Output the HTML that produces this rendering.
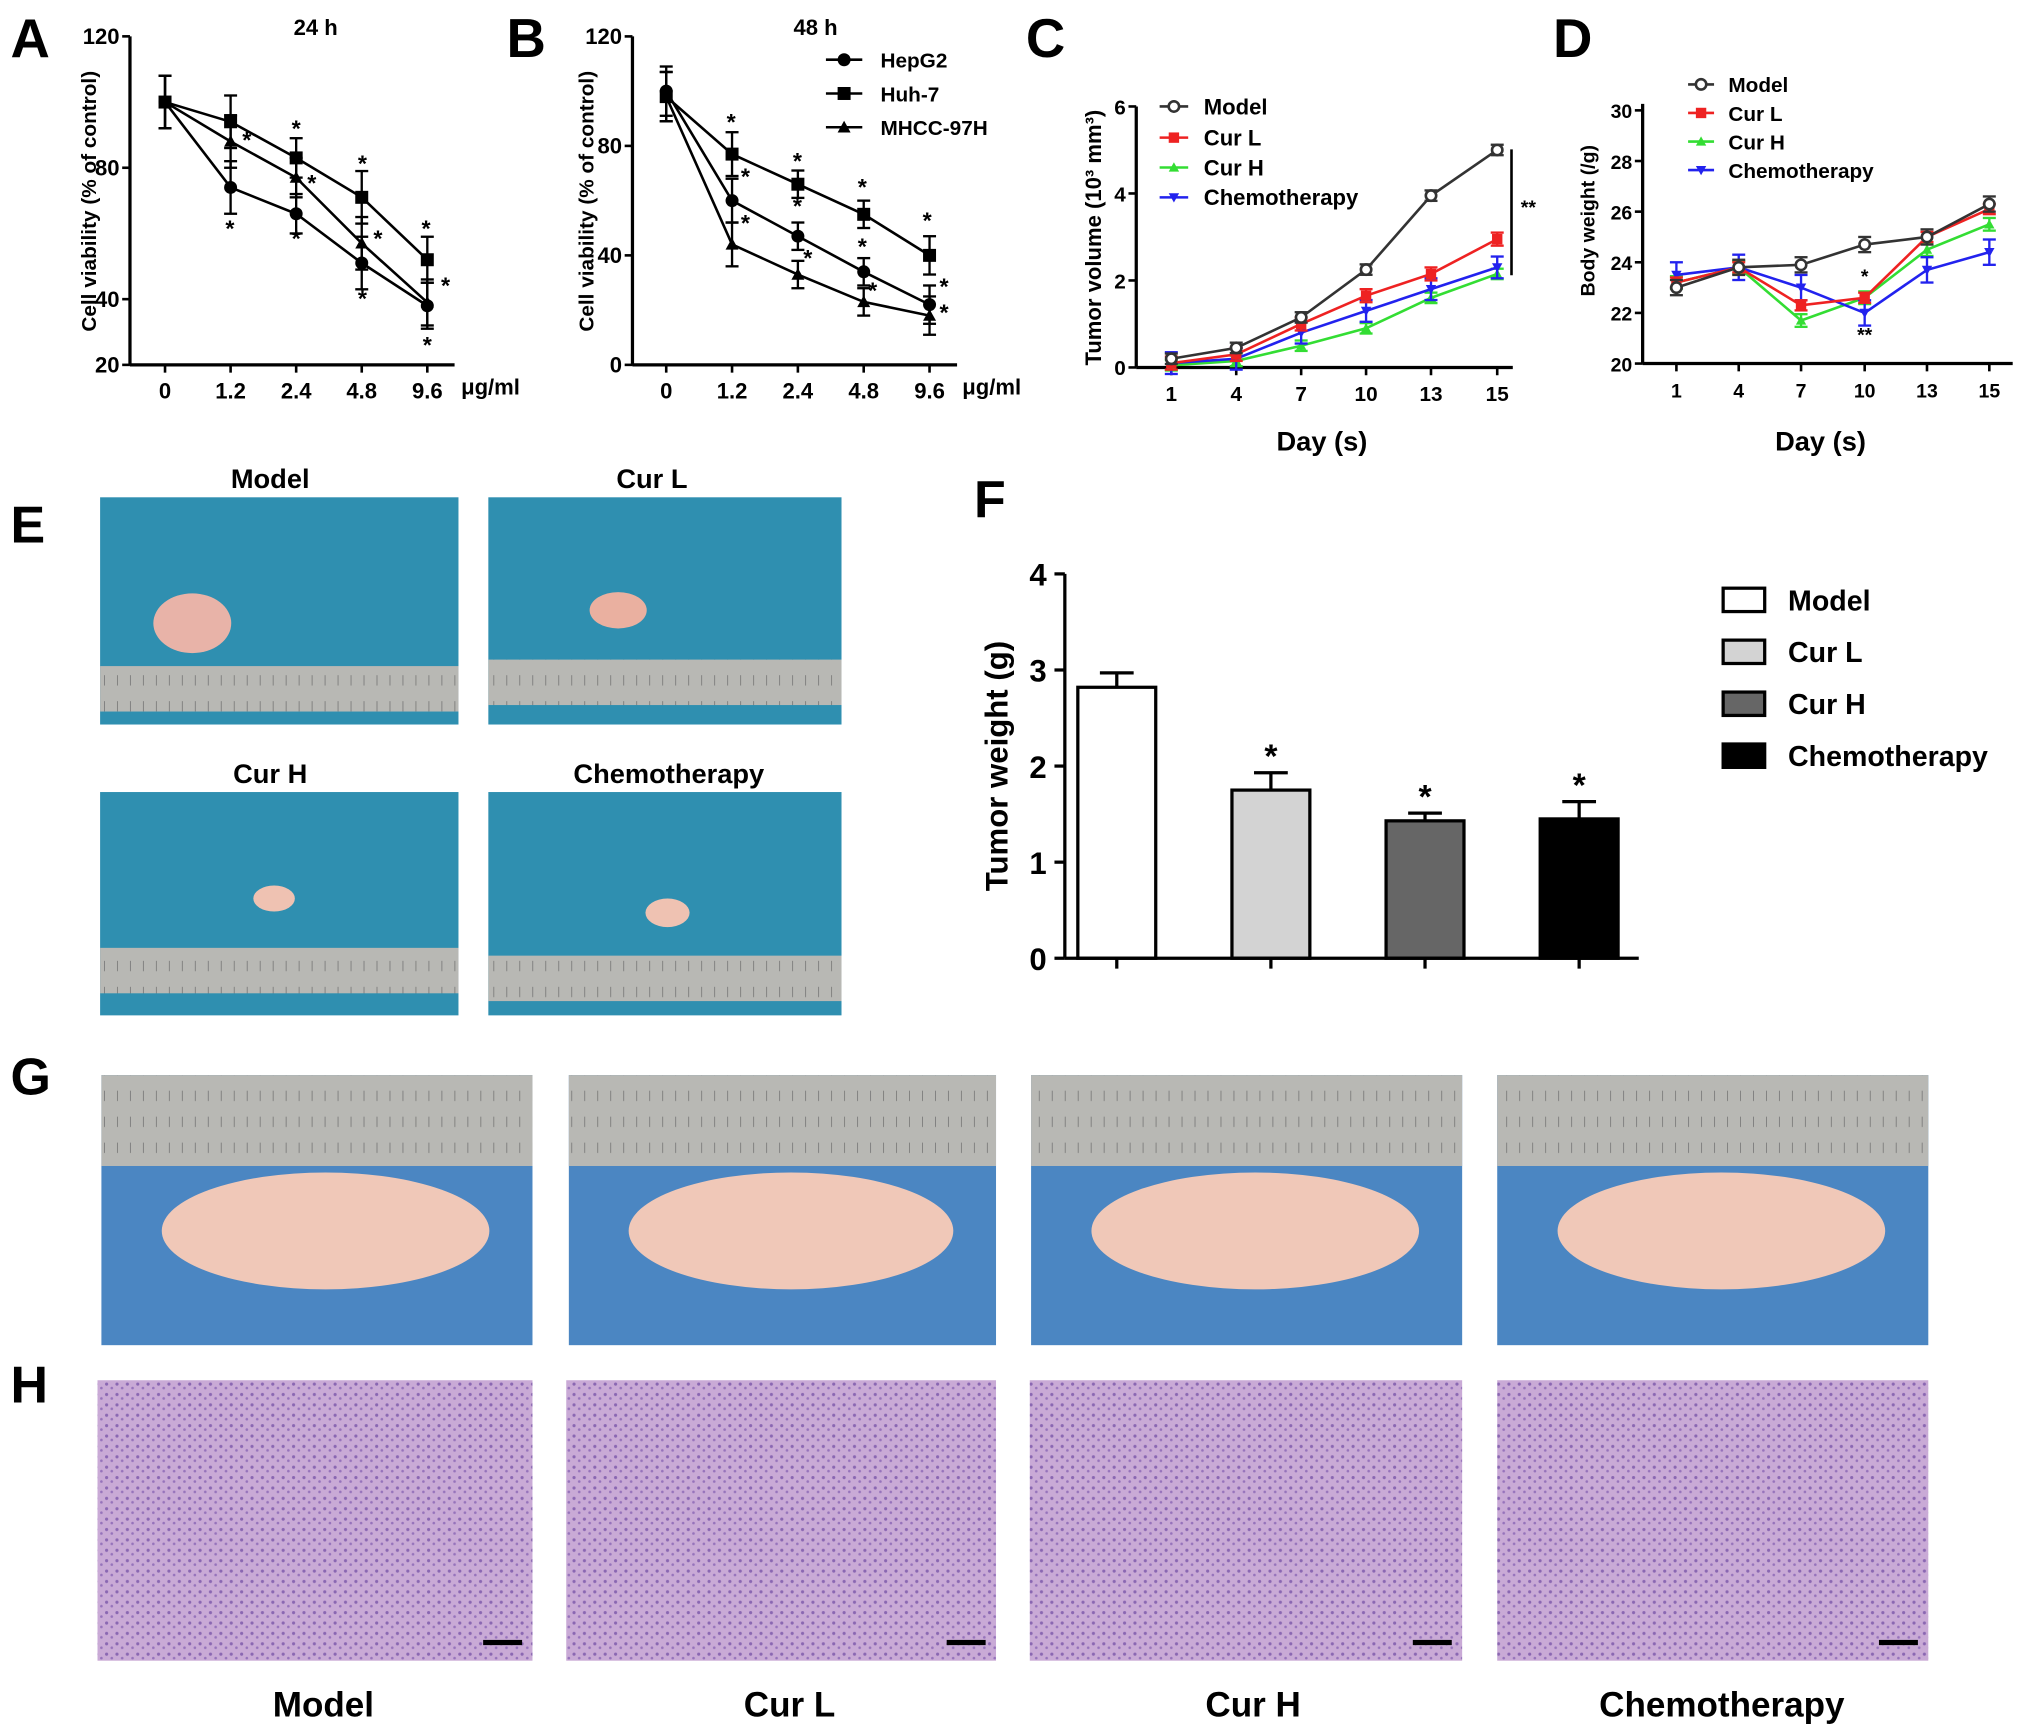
<!DOCTYPE html>
<html><head><meta charset="utf-8"><style>
html,body{margin:0;padding:0;background:#fff;}
svg{display:block;font-family:"Liberation Sans",Arial,sans-serif;}
.lb{font-weight:bold;}
</style></head><body>
<svg id="fig" width="2031" height="1736" viewBox="0 0 1564 1337" xmlns="http://www.w3.org/2000/svg">
<defs>
<pattern id="histo" width="8" height="8" patternUnits="userSpaceOnUse"><rect width="8" height="8" fill="#c9aad6"/><circle cx="2" cy="2" r="1.2" fill="#8a67b2"/><circle cx="6" cy="5" r="1" fill="#9673bb"/></pattern>
<pattern id="ruler" width="10" height="20" patternUnits="userSpaceOnUse"><rect width="10" height="20" fill="#b8b8b4"/><line x1="0" y1="0" x2="0" y2="8" stroke="#666" stroke-width="1"/></pattern>
</defs>
<g id="panels"></g>
<g>
<text x="8" y="418" font-size="40" class="lb">E</text>
<text x="208" y="376" font-size="21" class="lb" text-anchor="middle">Model</text>
<text x="502" y="376" font-size="21" class="lb" text-anchor="middle">Cur L</text>
<text x="208" y="603" font-size="21" class="lb" text-anchor="middle">Cur H</text>
<text x="515" y="603" font-size="21" class="lb" text-anchor="middle">Chemotherapy</text>
<rect x="77" y="383" width="276" height="175" fill="#2f8fb0"/><rect x="77" y="513" width="276" height="35" fill="url(#ruler)"/><ellipse cx="148" cy="480" rx="30" ry="23" fill="#e8b3a8"/>
<rect x="376" y="383" width="272" height="175" fill="#2f8fb0"/><rect x="376" y="508" width="272" height="35" fill="url(#ruler)"/><ellipse cx="476" cy="470" rx="22" ry="14" fill="#eab0a0"/>
<rect x="77" y="610" width="276" height="172" fill="#2f8fb0"/><rect x="77" y="730" width="276" height="35" fill="url(#ruler)"/><ellipse cx="211" cy="692" rx="16" ry="10" fill="#efc2b2"/>
<rect x="376" y="610" width="272" height="172" fill="#2f8fb0"/><rect x="376" y="736" width="272" height="35" fill="url(#ruler)"/><ellipse cx="514" cy="703" rx="17" ry="11" fill="#efc2b2"/>
</g>
<g>
<text x="8" y="843" font-size="40" class="lb">G</text>
<g id="gphotos"></g>
</g>
<g>
<text x="8" y="1080" font-size="40" class="lb">H</text>
<g id="hphotos"></g>
<text x="249" y="1322" font-size="27" class="lb" text-anchor="middle">Model</text>
<text x="608" y="1322" font-size="27" class="lb" text-anchor="middle">Cur L</text>
<text x="965" y="1322" font-size="27" class="lb" text-anchor="middle">Cur H</text>
<text x="1326" y="1322" font-size="27" class="lb" text-anchor="middle">Chemotherapy</text>
</g>
</svg>
<script>
// ===== Panel A data =====
const doseLabels = ["0","1.2","2.4","4.8","9.6"];
const aHepG2 = [100,74,66,51,38];
const aHuh7 = [100,94,83,71,52];
const aMHCC = [100,88,77,57,39];
const aErr = [8,8,6,8,7];
// ===== Panel B data =====
const bHepG2 = [100,60,47,34,22];
const bHuh7 = [98,77,66,55,40];
const bMHCC = [98,44,33,23,18];
const bErr = [9,8,5,5,7];
// ===== Panel C data =====
const days = ["1","4","7","10","13","15"];
const cModel = [0.2,0.45,1.15,2.25,3.95,5.0];
const cCurL = [0.1,0.3,1.0,1.65,2.15,2.95];
const cCurH = [0.05,0.15,0.5,0.9,1.6,2.15];
const cChemo = [0.1,0.2,0.8,1.3,1.8,2.3];
// ===== Panel D data =====
const dModel = [23.0,23.8,23.9,24.7,25.0,26.3];
const dCurL = [23.2,23.8,22.3,22.6,25.0,26.1];
const dCurH = [23.2,23.8,21.7,22.6,24.5,25.5];
const dChemo = [23.5,23.8,23.0,22.0,23.7,24.4];
// ===== Panel F data =====
const groups = ["Model","Cur L","Cur H","Chemotherapy"];
const weights = [2.82,1.75,1.43,1.45];
const weightErr = [0.15,0.18,0.08,0.18];

const NS="http://www.w3.org/2000/svg";
const root=document.getElementById('panels');
function el(tag,attrs,parent,txt){const e=document.createElementNS(NS,tag);for(const k in attrs)e.setAttribute(k,attrs[k]);if(txt!==undefined)e.textContent=txt;(parent||root).appendChild(e);return e;}

function marker(g,shape,x,y,col,r){
  let m;
  if(shape==='circle') m=el('circle',{cx:x,cy:y,r:r,fill:col},g);
  else if(shape==='ocircle') m=el('circle',{cx:x,cy:y,r:r,fill:'#fff',stroke:col,'stroke-width':2},g);
  else if(shape==='square') m=el('rect',{x:x-r,y:y-r,width:2*r,height:2*r,fill:col},g);
  else if(shape==='tri') m=el('polygon',{points:`${x},${y-r} ${x+r},${y+r*0.8} ${x-r},${y+r*0.8}`,fill:col},g);
  else if(shape==='itri') m=el('polygon',{points:`${x},${y+r} ${x+r},${y-r*0.8} ${x-r},${y-r*0.8}`,fill:col},g);
  
  
}
function series(g,xs,vals,ys,errs,col,shape,name,r,sw){
  const sg=el('g',{},g);
  
  
  el('polyline',{points:vals.map((v,i)=>xs(i)+','+ys(v)).join(' '),fill:'none',stroke:col,'stroke-width':sw||2},sg);
  vals.forEach((v,i)=>{
    if(errs){const e=errs[i];
      el('line',{x1:xs(i),x2:xs(i),y1:ys(v+e),y2:ys(v-e),stroke:col,'stroke-width':1.8},sg);
      el('line',{x1:xs(i)-5,x2:xs(i)+5,y1:ys(v+e),y2:ys(v+e),stroke:col,'stroke-width':1.8},sg);
      el('line',{x1:xs(i)-5,x2:xs(i)+5,y1:ys(v-e),y2:ys(v-e),stroke:col,'stroke-width':1.8},sg);}
    marker(sg,shape,xs(i),ys(v),col,r||5);
  });
}
function axes(g,x0,x1,y0,y1,ticks,ys,xlabels,xs,fs){
  el('line',{x1:x0,x2:x0,y1:y0,y2:y1,stroke:'#000','stroke-width':2.5},g);
  el('line',{x1:x0,x2:x1,y1:y0,y2:y0,stroke:'#000','stroke-width':2.5},g);
  ticks.forEach(t=>{el('line',{x1:x0-6,x2:x0,y1:ys(t),y2:ys(t),stroke:'#000','stroke-width':2},g);
    const tl=el('text',{x:x0-8,y:ys(t)+6,'font-size':fs,'text-anchor':'end','font-weight':'bold'},g,String(t));
    });
  xlabels.forEach((l,i)=>{el('line',{x1:xs(i),x2:xs(i),y1:y0,y2:y0+6,stroke:'#000','stroke-width':2},g);
    const tl=el('text',{x:xs(i),y:y0+26,'font-size':fs,'text-anchor':'middle','font-weight':'bold'},g,l);
    });
}
function star(g,x,y,t,fs){const s=el('text',{x:x,y:y,'font-size':fs||18,'text-anchor':'middle','font-weight':'bold'},g,t||'*');}

// ----- Panel A -----
{const g=el('g',{});
 el('text',{x:8,y:44,'font-size':42,'font-weight':'bold'},g,'A');
 el('text',{x:243,y:27,'font-size':17,'font-weight':'bold','text-anchor':'middle'},g,'24 h');
 const ys=v=>281-(v-20)*2.53, xs=i=>127+i*50.5;
 axes(g,100,350,281,28,[20,40,80,120],ys,doseLabels,xs,17);
 el('text',{x:355,y:304,'font-size':17,'font-weight':'bold'},g,'μg/ml');
 el('text',{transform:'translate(74,155) rotate(-90)','font-size':16,'font-weight':'bold','text-anchor':'middle'},g,'Cell viability (% of control)');
 series(g,xs,aHuh7,ys,aErr,'#000','square','series-huh7');
 series(g,xs,aMHCC,ys,aErr,'#000','tri','series-mhcc97h');
 series(g,xs,aHepG2,ys,aErr,'#000','circle','series-hepg2');
 [[177,182],[190,114],[228,105],[240,147],[228,190],[279,132],[291,190],[279,236],[328,182],[343,226],[329,272]].forEach(p=>star(g,p[0],p[1]));
}
// ----- Panel B -----
{const g=el('g',{});
 el('text',{x:390,y:44,'font-size':42,'font-weight':'bold'},g,'B');
 el('text',{x:628,y:27,'font-size':17,'font-weight':'bold','text-anchor':'middle'},g,'48 h');
 const ys=v=>281-v*2.108, xs=i=>513+i*50.7;
 axes(g,487,737,281,28,[0,40,80,120],ys,doseLabels,xs,17);
 el('text',{x:741,y:304,'font-size':17,'font-weight':'bold'},g,'μg/ml');
 el('text',{transform:'translate(457,155) rotate(-90)','font-size':16,'font-weight':'bold','text-anchor':'middle'},g,'Cell viability (% of control)');
 series(g,xs,bHuh7,ys,bErr,'#000','square','series-huh7');
 series(g,xs,bHepG2,ys,bErr,'#000','circle','series-hepg2');
 series(g,xs,bMHCC,ys,bErr,'#000','tri','series-mhcc97h');
 const lg=el('g',{},g);
 [['HepG2','circle',46],['Huh-7','square',72],['MHCC-97H','tri',98]].forEach(l=>{
   el('line',{x1:636,x2:664,y1:l[2],y2:l[2],stroke:'#000','stroke-width':2},lg);marker(lg,l[1],650,l[2],'#000',5);
   el('text',{x:678,y:l[2]+6,'font-size':16,'font-weight':'bold'},lg,l[0]);});
 [[563,100],[574,142],[574,178],[614,130],[614,165],[622,205],[664,150],[664,196],[672,230],[714,176],[727,227],[727,247]].forEach(p=>star(g,p[0],p[1]));
}
// ----- Panel C -----
{const g=el('g',{});
 el('text',{x:790,y:44,'font-size':42,'font-weight':'bold'},g,'C');
 const ys=v=>283-v*33.5, xs=i=>[902,952,1002,1052,1102,1153][i];
 axes(g,875,1165,283,82,[0,2,4,6],ys,days,xs,16);
 el('text',{x:1018,y:347,'font-size':21,'font-weight':'bold','text-anchor':'middle'},g,'Day (s)');
 el('text',{transform:'translate(848,183) rotate(-90)','font-size':17,'font-weight':'bold','text-anchor':'middle'},g,'Tumor volume (10³ mm³)');
 series(g,xs,cCurH,ys,cCurH.map(()=>0.12),'#33dd33','tri','series-cur-h',4);
 series(g,xs,cChemo,ys,cChemo.map(()=>0.25),'#2222ee','itri','series-chemotherapy',4);
 series(g,xs,cCurL,ys,cCurL.map(()=>0.15),'#ee2222','square','series-cur-l',4);
 series(g,xs,cModel,ys,cModel.map(()=>0.12),'#333','ocircle','series-model',4);
 el('line',{x1:1164,x2:1164,y1:115,y2:212,stroke:'#000','stroke-width':2},g);
 star(g,1177,165,'**',15);
 const lg=el('g',{},g);
 [['Model','ocircle','#333',82],['Cur L','square','#ee2222',106],['Cur H','tri','#33dd33',129],['Chemotherapy','itri','#2222ee',152]].forEach(l=>{
   el('line',{x1:893,x2:915,y1:l[3],y2:l[3],stroke:l[2],'stroke-width':2},lg);marker(lg,l[1],904,l[3],l[2],4);
   el('text',{x:927,y:l[3]+6,'font-size':17,'font-weight':'bold'},lg,l[0]);});
}
// ----- Panel D -----
{const g=el('g',{});
 el('text',{x:1196,y:44,'font-size':42,'font-weight':'bold'},g,'D');
 const ys=v=>280-(v-20)*19.5, xs=i=>[1291,1339,1387,1436,1484,1532][i];
 axes(g,1265,1550,280,80,[20,22,24,26,28,30],ys,days,xs,15);
 el('text',{x:1402,y:347,'font-size':21,'font-weight':'bold','text-anchor':'middle'},g,'Day (s)');
 el('text',{transform:'translate(1228,170) rotate(-90)','font-size':15,'font-weight':'bold','text-anchor':'middle'},g,'Body weight (/g)');
 series(g,xs,dCurH,ys,dCurH.map(()=>0.25),'#33dd33','tri','series-cur-h',4);
 series(g,xs,dChemo,ys,dChemo.map(()=>0.5),'#2222ee','itri','series-chemotherapy',4);
 series(g,xs,dCurL,ys,dCurL.map(()=>0.2),'#ee2222','square','series-cur-l',4);
 series(g,xs,dModel,ys,dModel.map(()=>0.3),'#333','ocircle','series-model',4);
 star(g,1436,218,'*',15);star(g,1436,263,'**',15);
 const lg=el('g',{},g);
 [['Model','ocircle','#333',65],['Cur L','square','#ee2222',87],['Cur H','tri','#33dd33',109],['Chemotherapy','itri','#2222ee',131]].forEach(l=>{
   el('line',{x1:1300,x2:1320,y1:l[3],y2:l[3],stroke:l[2],'stroke-width':2},lg);marker(lg,l[1],1310,l[3],l[2],4);
   el('text',{x:1331,y:l[3]+6,'font-size':16,'font-weight':'bold'},lg,l[0]);});
}
// ----- Panel F -----
{const g=el('g',{});
 el('text',{x:750,y:398,'font-size':40,'font-weight':'bold'},g,'F');
 const ys=v=>738-v*74, xs=i=>860+i*118.7;
 const fills=['#fff','#d3d3d3','#666','#000'];
 el('text',{transform:'translate(776,590) rotate(-90)','font-size':24,'font-weight':'bold','text-anchor':'middle'},g,'Tumor weight (g)');
 weights.forEach((w,i)=>{
   const b=el('rect',{x:xs(i)-30,y:ys(w),width:60,height:738-ys(w),fill:fills[i],stroke:'#000','stroke-width':2.5},g);
   
   
   const e=weightErr[i];
   el('line',{x1:xs(i),x2:xs(i),y1:ys(w),y2:ys(w+e),stroke:'#000','stroke-width':2.5},g);
   el('line',{x1:xs(i)-13,x2:xs(i)+13,y1:ys(w+e),y2:ys(w+e),stroke:'#000','stroke-width':2.5},g);
   if(i>0) star(g,xs(i),ys(w+e)-4,'*',26);
 });
 el('line',{x1:820,x2:820,y1:738,y2:442,stroke:'#000','stroke-width':2.5},g);
 el('line',{x1:820,x2:1262,y1:738,y2:738,stroke:'#000','stroke-width':2.5},g);
 [0,1,2,3,4].forEach(t=>{el('line',{x1:812,x2:820,y1:ys(t),y2:ys(t),stroke:'#000','stroke-width':2.5},g);
   const tl=el('text',{x:806,y:ys(t)+9,'font-size':24,'font-weight':'bold','text-anchor':'end'},g,String(t));
   });
 groups.forEach((n,i)=>el('line',{x1:xs(i),x2:xs(i),y1:738,y2:746,stroke:'#000','stroke-width':2.5},g));
 const lg=el('g',{},g);
 groups.forEach((n,i)=>{const y=462+i*40;
   el('rect',{x:1327,y:y-9,width:32,height:18,fill:fills[i],stroke:'#000','stroke-width':2.5},lg);
   el('text',{x:1377,y:y+8,'font-size':22,'font-weight':'bold'},lg,n);});
}
// G photos
{const gp=document.getElementById('gphotos');
 [[78,332],[438,329],[794,332],[1153,332]].forEach((p,i)=>{
  const r=el('rect',{x:p[0],y:828,width:p[1],height:208,fill:'#4b86c2'},gp);
  
  el('rect',{x:p[0],y:828,width:p[1],height:70,fill:'url(#ruler)'},gp);
  el('ellipse',{cx:p[0]+p[1]*0.52,cy:948,rx:p[1]*0.38,ry:45,fill:'#f0c8b8'},gp);
 });}
// H photos
{const hp=document.getElementById('hphotos');
 [[75,335],[436,331],[793,333],[1153,332]].forEach(p=>{
  const r=el('rect',{x:p[0],y:1063,width:p[1],height:216,fill:'url(#histo)'},hp);
  
  el('rect',{x:p[0]+p[1]-38,y:1263,width:30,height:4,fill:'#000'},hp);
 });}
</script>
</body></html>
